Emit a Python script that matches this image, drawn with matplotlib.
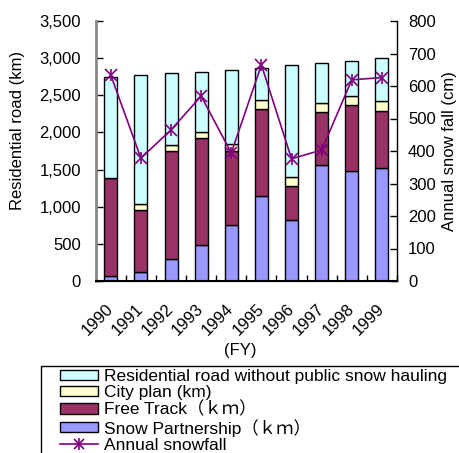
import numpy as np
import matplotlib.pyplot as plt
import matplotlib.transforms as mtransforms
from matplotlib.lines import Line2D
from matplotlib.patches import Patch, Rectangle
from matplotlib.legend_handler import HandlerTuple

plt.rcParams['font.family'] = ['Liberation Sans', 'Noto Sans CJK JP', 'DejaVu Sans']

years = ['1990', '1991', '1992', '1993', '1994', '1995', '1996', '1997', '1998', '1999']
snow_partnership = [68, 122, 297, 486, 752, 1147, 824, 1568, 1486, 1527]
free_track = [1324, 837, 1451, 1433, 996, 1170, 455, 711, 888, 766]
city_plan = [0, 77, 85, 86, 99, 124, 122, 122, 117, 126]
residential = [1351, 1739, 964, 815, 991, 433, 1509, 531, 477, 586]
snowfall = [634, 378, 465, 569, 394, 665, 376, 403, 619, 626]

W, H = 460, 453
fs = 12

fig = plt.figure(figsize=(W / 100, H / 100), dpi=100)
ax = fig.add_axes([95.7 / W, 1 - 281 / H, (397 - 95.7) / W, 260 / H])
ax2 = ax.twinx()

x = np.arange(len(years))
w = 0.43
bottom = np.zeros(len(years))
layers = [
    (snow_partnership, '#9999FF'),
    (free_track, '#993366'),
    (city_plan, '#FFFFCC'),
    (residential, '#CCFFFF'),
]
for vals, col in layers:
    ax.bar(x, vals, w, bottom=bottom, color=col, edgecolor='black', linewidth=1.0, zorder=2)
    bottom += np.array(vals)

# snowfall line with an asterisk-like marker (x plus a vertical bar)
ax2.plot(x, snowfall, color='#800080', lw=1.2, marker='x', ms=8, mew=1.2, zorder=3)
ax2.plot(x, snowfall, ls='none', color='#800080', marker='|', ms=9, mew=1.2, zorder=3)

ax.set_xlim(-0.5, 9.5)
ax.set_ylim(0, 3500)
ax2.set_ylim(0, 800)
ax.set_yticks(np.arange(0, 3501, 500))
ax.set_yticklabels([f'{v:,}' for v in range(0, 3501, 500)])
ax2.set_yticks(np.arange(0, 801, 100))

ax.set_xticks(x)
ax.set_xticklabels(years, rotation=45, ha='right', va='center', rotation_mode='anchor')
shift = mtransforms.ScaledTranslation(-20 / 100, 0, fig.dpi_scale_trans)
for lab in ax.get_xticklabels():
    lab.set_transform(lab.get_transform() + shift)
ax.set_xticks(np.arange(-0.5, 10, 1), minor=True)
ax.tick_params(axis='x', which='major', length=0, pad=18.5, labelsize=fs)
ax.tick_params(axis='x', which='minor', direction='in', length=4, width=1)
ax.tick_params(axis='y', direction='in', length=5, width=1, pad=10.5, labelsize=fs)
ax2.tick_params(axis='y', direction='in', length=5, width=1, pad=8, labelsize=fs)

for a in (ax, ax2):
    a.spines['top'].set_visible(False)
ax.spines['left'].set_color('#888888')
ax.spines['left'].set_linewidth(2)
ax2.spines['left'].set_visible(False)
ax.spines['right'].set_visible(False)
ax2.spines['right'].set_linewidth(1)
ax.spines['bottom'].set_linewidth(1.5)

ax.set_ylabel('Residential road (km)', fontsize=fs)
ax.yaxis.set_label_coords(-0.233, 0.58)
ax2.set_ylabel('Annual snow fall (cm)', fontsize=fs)
ax2.yaxis.set_label_coords(1.15, 0.5)
ax.set_xlabel('(FY)', fontsize=fs)
ax.xaxis.set_label_coords(0.48, -0.238)

# legend frame runs past the right and bottom edges of the figure
fig.patches.append(Rectangle((41 / W, -0.1), 1.0, 1 - 366 / H + 0.1,
                             transform=fig.transFigure, fill=False,
                             edgecolor='black', linewidth=1))

handles = [
    Patch(facecolor='#CCFFFF', edgecolor='black'),
    Patch(facecolor='#FFFFCC', edgecolor='black'),
    Patch(facecolor='#993366', edgecolor='black'),
    Patch(facecolor='#9999FF', edgecolor='black'),
    (Line2D([], [], color='#800080', lw=1.2, marker='x', ms=7, mew=1.2),
     Line2D([], [], ls='none', color='#800080', marker='|', ms=8, mew=1.2)),
]
labels = [
    'Residential road without public snow hauling',
    'City plan (km)',
    'Free Track（ｋｍ）',
    'Snow Partnership（ｋｍ）',
    'Annual snowfall',
]
leg = fig.legend(handles, labels, loc='upper left',
                 bbox_to_anchor=(60 / W, 1 - 369 / H),
                 fontsize=12.5, frameon=False, borderpad=0, labelspacing=0.06,
                 handlelength=2.2, handleheight=0.52, handletextpad=0.35,
                 borderaxespad=0, handler_map={tuple: HandlerTuple(ndivide=1)})

fig.savefig('out.png', dpi=100)
